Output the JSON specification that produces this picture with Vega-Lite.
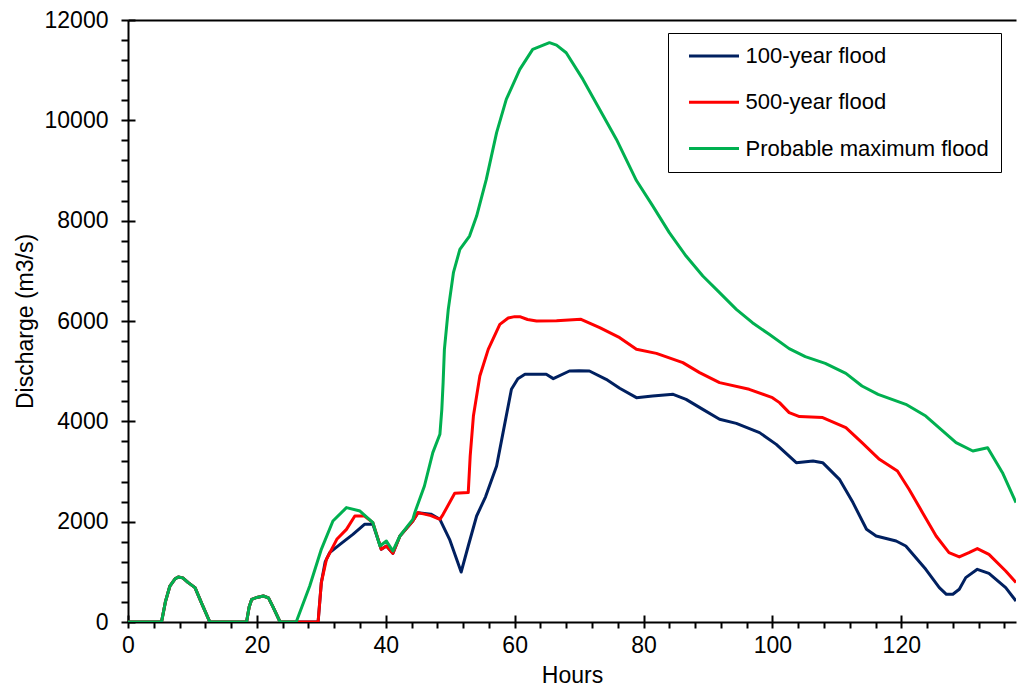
{
  "$schema": "https://vega.github.io/schema/vega-lite/v6.json",
  "width": 888,
  "height": 602,
  "autosize": {"type": "none"},
  "padding": {"left": 128, "top": 20, "right": 1, "bottom": 66},
  "background": "white",
  "config": {
    "view": {"stroke": null},
    "font": "Liberation Sans",
    "axis": {"domainColor": "black", "domainWidth": 2, "tickColor": "black", "tickWidth": 2, "labelColor": "black", "titleColor": "black", "labelFont": "Liberation Sans", "titleFont": "Liberation Sans", "labelFontSize": 23, "titleFontSize": 23, "titleFontWeight": "normal", "grid": false}
  },
  "data": {"values": [
    {"s":"100-year flood","h":0,"q":0},{"s":"100-year flood","h":5.2,"q":0},{"s":"100-year flood","h":5.8,"q":400},{"s":"100-year flood","h":6.5,"q":717},{"s":"100-year flood","h":7.3,"q":860},{"s":"100-year flood","h":7.8,"q":897},{"s":"100-year flood","h":8.5,"q":880},{"s":"100-year flood","h":9.3,"q":790},{"s":"100-year flood","h":10.4,"q":686},{"s":"100-year flood","h":11.5,"q":350},{"s":"100-year flood","h":12.7,"q":0},{"s":"100-year flood","h":18.4,"q":0},{"s":"100-year flood","h":18.8,"q":300},{"s":"100-year flood","h":19.2,"q":452},{"s":"100-year flood","h":20,"q":490},{"s":"100-year flood","h":21,"q":518},{"s":"100-year flood","h":21.8,"q":480},{"s":"100-year flood","h":22.5,"q":300},{"s":"100-year flood","h":23.6,"q":0},
    {"s":"100-year flood","h":29.5,"q":0},{"s":"100-year flood","h":30,"q":785},{"s":"100-year flood","h":30.6,"q":1200},{"s":"100-year flood","h":31.3,"q":1383},{"s":"100-year flood","h":32.9,"q":1548},{"s":"100-year flood","h":34.9,"q":1748},{"s":"100-year flood","h":36.7,"q":1947},{"s":"100-year flood","h":38,"q":1947},{"s":"100-year flood","h":39.3,"q":1449},{"s":"100-year flood","h":40.1,"q":1515},{"s":"100-year flood","h":41.1,"q":1369},{"s":"100-year flood","h":42.2,"q":1714},{"s":"100-year flood","h":44.2,"q":2013},{"s":"100-year flood","h":45,"q":2180},{"s":"100-year flood","h":47,"q":2150},{"s":"100-year flood","h":48.4,"q":2047},{"s":"100-year flood","h":49.9,"q":1648},{"s":"100-year flood","h":51.7,"q":997},{"s":"100-year flood","h":52.8,"q":1515},{"s":"100-year flood","h":54.1,"q":2113},{"s":"100-year flood","h":55.5,"q":2500},{"s":"100-year flood","h":57.2,"q":3109},{"s":"100-year flood","h":58.2,"q":3775},{"s":"100-year flood","h":59.5,"q":4638},{"s":"100-year flood","h":60.5,"q":4850},{"s":"100-year flood","h":61.6,"q":4937},{"s":"100-year flood","h":64.9,"q":4937},{"s":"100-year flood","h":66,"q":4851},{"s":"100-year flood","h":68.5,"q":5003},{"s":"100-year flood","h":70,"q":5010},{"s":"100-year flood","h":71.6,"q":5003},{"s":"100-year flood","h":74.2,"q":4837},{"s":"100-year flood","h":76.3,"q":4660},{"s":"100-year flood","h":78.9,"q":4472},{"s":"100-year flood","h":81.4,"q":4504},{"s":"100-year flood","h":84.6,"q":4538},{"s":"100-year flood","h":86.6,"q":4438},{"s":"100-year flood","h":89.2,"q":4239},{"s":"100-year flood","h":91.8,"q":4040},{"s":"100-year flood","h":94.4,"q":3960},{"s":"100-year flood","h":98,"q":3775},{"s":"100-year flood","h":100.6,"q":3541},{"s":"100-year flood","h":103.7,"q":3176},{"s":"100-year flood","h":106.3,"q":3209},{"s":"100-year flood","h":107.8,"q":3176},{"s":"100-year flood","h":110.4,"q":2844},{"s":"100-year flood","h":112.5,"q":2380},{"s":"100-year flood","h":114.6,"q":1848},{"s":"100-year flood","h":116.1,"q":1714},{"s":"100-year flood","h":119.2,"q":1614},{"s":"100-year flood","h":120.7,"q":1515},{"s":"100-year flood","h":123.8,"q":1050},{"s":"100-year flood","h":125.9,"q":686},{"s":"100-year flood","h":127,"q":552},{"s":"100-year flood","h":128,"q":552},{"s":"100-year flood","h":129,"q":652},{"s":"100-year flood","h":130,"q":885},{"s":"100-year flood","h":131.8,"q":1050},{"s":"100-year flood","h":133.6,"q":970},{"s":"100-year flood","h":136.2,"q":686},{"s":"100-year flood","h":137.8,"q":419},
    {"s":"500-year flood","h":0,"q":0},{"s":"500-year flood","h":5.2,"q":0},{"s":"500-year flood","h":5.8,"q":400},{"s":"500-year flood","h":6.5,"q":717},{"s":"500-year flood","h":7.3,"q":860},{"s":"500-year flood","h":7.8,"q":897},{"s":"500-year flood","h":8.5,"q":880},{"s":"500-year flood","h":9.3,"q":790},{"s":"500-year flood","h":10.4,"q":686},{"s":"500-year flood","h":11.5,"q":350},{"s":"500-year flood","h":12.7,"q":0},{"s":"500-year flood","h":18.4,"q":0},{"s":"500-year flood","h":18.8,"q":300},{"s":"500-year flood","h":19.2,"q":452},{"s":"500-year flood","h":20,"q":490},{"s":"500-year flood","h":21,"q":518},{"s":"500-year flood","h":21.8,"q":480},{"s":"500-year flood","h":22.5,"q":300},{"s":"500-year flood","h":23.6,"q":0},
    {"s":"500-year flood","h":29.5,"q":0},{"s":"500-year flood","h":30,"q":785},{"s":"500-year flood","h":30.8,"q":1250},{"s":"500-year flood","h":32.4,"q":1648},{"s":"500-year flood","h":33.9,"q":1847},{"s":"500-year flood","h":35.2,"q":2113},{"s":"500-year flood","h":36.7,"q":2113},{"s":"500-year flood","h":38,"q":1981},{"s":"500-year flood","h":39.3,"q":1449},{"s":"500-year flood","h":40.1,"q":1515},{"s":"500-year flood","h":41.1,"q":1369},{"s":"500-year flood","h":42.2,"q":1714},{"s":"500-year flood","h":44.2,"q":2013},{"s":"500-year flood","h":45,"q":2180},{"s":"500-year flood","h":47,"q":2120},{"s":"500-year flood","h":48.4,"q":2047},{"s":"500-year flood","h":48.9,"q":2146},{"s":"500-year flood","h":50.7,"q":2565},{"s":"500-year flood","h":52.8,"q":2579},{"s":"500-year flood","h":53.1,"q":3308},{"s":"500-year flood","h":53.6,"q":4106},{"s":"500-year flood","h":54.6,"q":4903},{"s":"500-year flood","h":55.9,"q":5435},{"s":"500-year flood","h":57.7,"q":5933},{"s":"500-year flood","h":59,"q":6060},{"s":"500-year flood","h":60,"q":6087},{"s":"500-year flood","h":60.8,"q":6087},{"s":"500-year flood","h":62,"q":6030},{"s":"500-year flood","h":63.4,"q":6000},{"s":"500-year flood","h":66.5,"q":6007},{"s":"500-year flood","h":70.3,"q":6033},{"s":"500-year flood","h":73.2,"q":5867},{"s":"500-year flood","h":76.3,"q":5668},{"s":"500-year flood","h":78.9,"q":5435},{"s":"500-year flood","h":82,"q":5355},{"s":"500-year flood","h":86.1,"q":5170},{"s":"500-year flood","h":88.7,"q":4971},{"s":"500-year flood","h":91.8,"q":4771},{"s":"500-year flood","h":96.4,"q":4638},{"s":"500-year flood","h":100,"q":4472},{"s":"500-year flood","h":101.1,"q":4373},{"s":"500-year flood","h":102.6,"q":4173},{"s":"500-year flood","h":104.2,"q":4094},{"s":"500-year flood","h":107.8,"q":4074},{"s":"500-year flood","h":111.4,"q":3874},{"s":"500-year flood","h":113.9,"q":3575},{"s":"500-year flood","h":116.6,"q":3243},{"s":"500-year flood","h":119.4,"q":3010},{"s":"500-year flood","h":121.2,"q":2645},{"s":"500-year flood","h":123.3,"q":2180},{"s":"500-year flood","h":125.4,"q":1714},{"s":"500-year flood","h":127.4,"q":1383},{"s":"500-year flood","h":129,"q":1296},{"s":"500-year flood","h":130.5,"q":1383},{"s":"500-year flood","h":131.8,"q":1463},{"s":"500-year flood","h":133.6,"q":1349},{"s":"500-year flood","h":136.2,"q":1017},{"s":"500-year flood","h":137.8,"q":785},
    {"s":"Probable maximum flood","h":0,"q":0},{"s":"Probable maximum flood","h":5.2,"q":0},{"s":"Probable maximum flood","h":5.8,"q":400},{"s":"Probable maximum flood","h":6.5,"q":717},{"s":"Probable maximum flood","h":7.3,"q":860},{"s":"Probable maximum flood","h":7.8,"q":897},{"s":"Probable maximum flood","h":8.5,"q":880},{"s":"Probable maximum flood","h":9.3,"q":790},{"s":"Probable maximum flood","h":10.4,"q":686},{"s":"Probable maximum flood","h":11.5,"q":350},{"s":"Probable maximum flood","h":12.7,"q":0},{"s":"Probable maximum flood","h":18.4,"q":0},{"s":"Probable maximum flood","h":18.8,"q":300},{"s":"Probable maximum flood","h":19.2,"q":452},{"s":"Probable maximum flood","h":20,"q":490},{"s":"Probable maximum flood","h":21,"q":518},{"s":"Probable maximum flood","h":21.8,"q":480},{"s":"Probable maximum flood","h":22.5,"q":300},{"s":"Probable maximum flood","h":23.6,"q":0},
    {"s":"Probable maximum flood","h":26.1,"q":0},{"s":"Probable maximum flood","h":28.2,"q":717},{"s":"Probable maximum flood","h":30,"q":1449},{"s":"Probable maximum flood","h":31.8,"q":2013},{"s":"Probable maximum flood","h":33.9,"q":2280},{"s":"Probable maximum flood","h":36,"q":2212},{"s":"Probable maximum flood","h":38,"q":1981},{"s":"Probable maximum flood","h":39.1,"q":1515},{"s":"Probable maximum flood","h":40.1,"q":1614},{"s":"Probable maximum flood","h":41.1,"q":1415},{"s":"Probable maximum flood","h":42.2,"q":1714},{"s":"Probable maximum flood","h":44.2,"q":2047},{"s":"Probable maximum flood","h":44.5,"q":2180},{"s":"Probable maximum flood","h":46,"q":2711},{"s":"Probable maximum flood","h":47.3,"q":3376},{"s":"Probable maximum flood","h":48.4,"q":3741},{"s":"Probable maximum flood","h":48.7,"q":4239},{"s":"Probable maximum flood","h":48.9,"q":4771},{"s":"Probable maximum flood","h":49.1,"q":5435},{"s":"Probable maximum flood","h":49.7,"q":6232},{"s":"Probable maximum flood","h":50.5,"q":6963},{"s":"Probable maximum flood","h":51.5,"q":7428},{"s":"Probable maximum flood","h":53,"q":7693},{"s":"Probable maximum flood","h":54.1,"q":8092},{"s":"Probable maximum flood","h":55.6,"q":8823},{"s":"Probable maximum flood","h":57.2,"q":9754},{"s":"Probable maximum flood","h":58.7,"q":10418},{"s":"Probable maximum flood","h":60.8,"q":11016},{"s":"Probable maximum flood","h":62.8,"q":11415},{"s":"Probable maximum flood","h":65.4,"q":11548},{"s":"Probable maximum flood","h":66.5,"q":11500},{"s":"Probable maximum flood","h":68,"q":11348},{"s":"Probable maximum flood","h":70.6,"q":10816},{"s":"Probable maximum flood","h":73.2,"q":10218},{"s":"Probable maximum flood","h":75.8,"q":9620},{"s":"Probable maximum flood","h":78.9,"q":8800},{"s":"Probable maximum flood","h":81.4,"q":8300},{"s":"Probable maximum flood","h":84,"q":7761},{"s":"Probable maximum flood","h":86.6,"q":7295},{"s":"Probable maximum flood","h":89.2,"q":6896},{"s":"Probable maximum flood","h":91.8,"q":6565},{"s":"Probable maximum flood","h":94.4,"q":6232},{"s":"Probable maximum flood","h":96.9,"q":5967},{"s":"Probable maximum flood","h":99.5,"q":5734},{"s":"Probable maximum flood","h":102.6,"q":5449},{"s":"Probable maximum flood","h":105.1,"q":5289},{"s":"Probable maximum flood","h":108.2,"q":5156},{"s":"Probable maximum flood","h":111.4,"q":4957},{"s":"Probable maximum flood","h":113.9,"q":4704},{"s":"Probable maximum flood","h":116.4,"q":4538},{"s":"Probable maximum flood","h":120.7,"q":4339},{"s":"Probable maximum flood","h":123.8,"q":4106},{"s":"Probable maximum flood","h":128.5,"q":3575},{"s":"Probable maximum flood","h":131.1,"q":3408},{"s":"Probable maximum flood","h":133.4,"q":3475},{"s":"Probable maximum flood","h":135.7,"q":2977},{"s":"Probable maximum flood","h":137.8,"q":2380}
  ]},
  "layer": [
    {
      "mark": {"type": "line", "strokeWidth": 3, "strokeJoin": "round", "clip": true},
      "encoding": {
        "x": {"field": "h", "type": "quantitative", "scale": {"domain": [0, 137.8], "nice": false, "zero": false},
          "axis": {"orient": "bottom", "values": [0,4,8,12,16,20,24,28,32,36,40,44,48,52,56,60,64,68,72,76,80,84,88,92,96,100,104,108,112,116,120,124,128,132,136], "format": "d", "tickSize": 6, "labelExpr": "datum.value % 20 === 0 ? datum.label : ''", "labelFlush": false, "labelOverlap": false, "labelPadding": 6, "title": "Hours", "titlePadding": 7}},
        "y": {"field": "q", "type": "quantitative", "scale": {"domain": [0, 12000], "nice": false},
          "axis": {"orient": "left", "values": [0,400,800,1200,1600,2000,2400,2800,3200,3600,4000,4400,4800,5200,5600,6000,6400,6800,7200,7600,8000,8400,8800,9200,9600,10000,10400,10800,11200,11600,12000], "format": "d", "tickSize": 7, "labelExpr": "datum.value % 2000 === 0 ? datum.label : ''", "labelOverlap": false, "labelPadding": 13, "title": "Discharge  (m3/s)", "titlePadding": 7}},
        "color": {"field": "s", "type": "nominal",
          "scale": {"domain": ["100-year flood", "500-year flood", "Probable maximum flood"], "range": ["#002060", "#FF0000", "#00B050"]},
          "legend": {"orient": "none", "legendX": 540, "legendY": 13, "title": null, "symbolType": "stroke", "symbolSize": 2500, "symbolStrokeWidth": 3, "labelFontSize": 22, "labelFont": "Liberation Sans", "labelColor": "black", "strokeColor": "black", "padding": 12, "symbolOffset": 7.5, "labelOffset": 5, "rowPadding": 24.3, "clipHeight": 22, "labelLimit": 400, "labelExpr": "datum.label + '   \u2009'"}}
      }
    },
    {
      "mark": {"type": "line", "opacity": 0},
      "encoding": {
        "x": {"field": "h", "type": "quantitative", "axis": {"orient": "bottom", "values": [0,20,40,60,80,100,120], "tickSize": -7, "labels": false, "domain": false, "title": null}},
        "y": {"field": "q", "type": "quantitative", "axis": {"orient": "left", "values": [0,2000,4000,6000,8000,10000,12000], "tickSize": -7, "labels": false, "domain": false, "title": null}},
        "detail": {"field": "s"}
      }
    },
    {
      "mark": {"type": "line", "opacity": 0},
      "encoding": {
        "x": {"field": "h", "type": "quantitative", "axis": {"orient": "top", "ticks": false, "labels": false, "domain": true, "title": null}},
        "detail": {"field": "s"}
      }
    }
  ],
  "resolve": {"axis": {"x": "independent", "y": "independent"}}
}
